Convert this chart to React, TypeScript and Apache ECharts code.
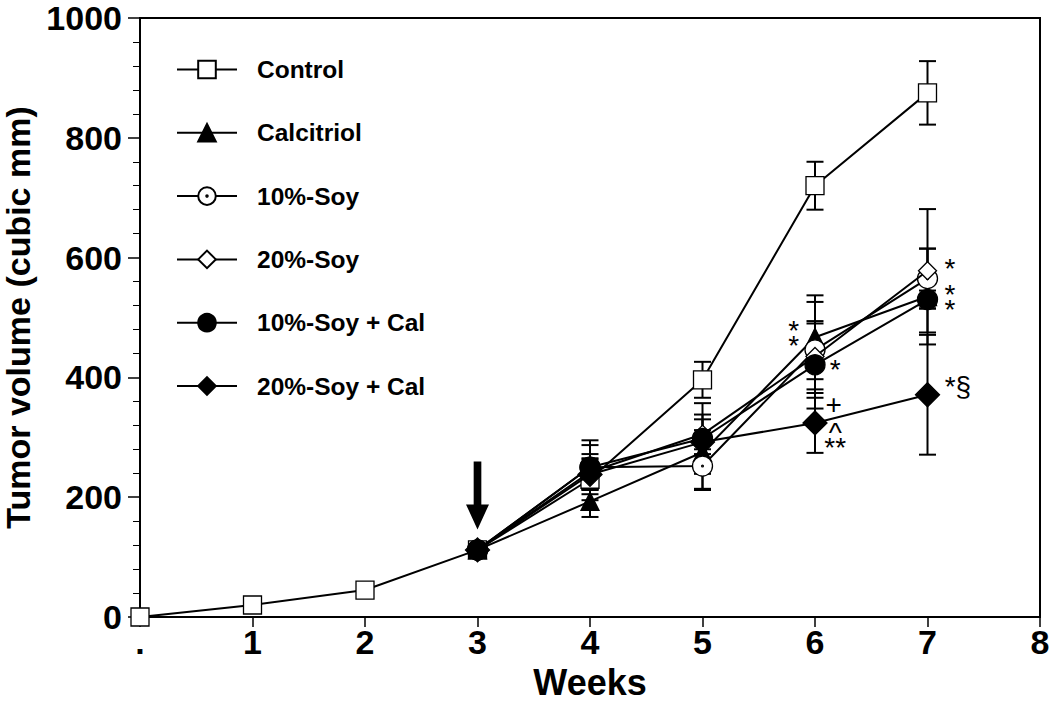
import React, { useEffect, useRef } from "react";
import * as echarts from "echarts";

// ---- data ----
const weeks = [0, 1, 2, 3, 4, 5, 6, 7];
const xTickLabels = [".", "1", "2", "3", "4", "5", "6", "7", "8"];
const seriesNames = ["Control", "Calcitriol", "10%-Soy", "20%-Soy", "10%-Soy + Cal", "20%-Soy + Cal"];

const controlMean = [0, 20, 45, 112, 230, 396, 720, 875];
const controlErr = [0, 0, 0, 0, 35, 30, 40, 53];
const calcitriolMean = [null, null, null, 112, 193, 275, 467, 535];
const calcitriolErr = [0, 0, 0, 0, 26, 63, 70, 80];
const soy10Mean = [null, null, null, 112, 250, 252, 446, 565];
const soy10Err = [0, 0, 0, 0, 37, 38, 80, 50];
const soy20Mean = [null, null, null, 112, 242, 305, 435, 578];
const soy20Err = [0, 0, 0, 0, 30, 25, 55, 103];
const soy10CalMean = [null, null, null, 112, 250, 298, 421, 530];
const soy10CalErr = [0, 0, 0, 0, 45, 59, 73, 15];
const soy20CalMean = [null, null, null, 112, 238, 292, 324, 371];
const soy20CalErr = [0, 0, 0, 0, 25, 20, 50, 100];

// significance marks: [week, value, text]
const annotations: [number, number, string][] = [
  [7.2, 581, "*"],
  [7.2, 526, "*\n*"],
  [7.27, 384, "*§"],
  [5.81, 465, "*\n*"],
  [6.18, 413, "*"],
  [6.165, 354, "+"],
  [6.18, 295, "^\n**"],
];

// treatment start arrow: [week, value]
const arrowPoint: [number, number] = [3, 203];

const FONT = "'Liberation Sans', Arial, Helvetica, sans-serif";
const DOT_CIRCLE =
  "path://M0,-10 A10,10 0 1,1 0,10 A10,10 0 1,1 0,-10 Z M0,-0.9 A0.9,0.9 0 1,1 0,0.9 A0.9,0.9 0 1,1 0,-0.9 Z";
const ARROW = "path://M8,0 L16,0 L16,43 L24,43 L12,68 L0,43 L8,43 Z";

const groups = [
  { name: seriesNames[0], mean: controlMean, err: controlErr, symbol: "rect", size: 18, fill: "#fff" },
  { name: seriesNames[1], mean: calcitriolMean, err: calcitriolErr, symbol: "triangle", size: 18, fill: "#000" },
  { name: seriesNames[2], mean: soy10Mean, err: soy10Err, symbol: DOT_CIRCLE, size: 20, fill: "#fff" },
  { name: seriesNames[3], mean: soy20Mean, err: soy20Err, symbol: "diamond", size: 18, fill: "#fff" },
  { name: seriesNames[4], mean: soy10CalMean, err: soy10CalErr, symbol: "circle", size: 20, fill: "#000" },
  { name: seriesNames[5], mean: soy20CalMean, err: soy20CalErr, symbol: "diamond", size: 24, fill: "#000" },
];

export default function App() {
  const ref = useRef<HTMLDivElement>(null);
  useEffect(() => {
    if (!ref.current) return;
    const chart = echarts.init(ref.current, null, { renderer: "svg" });

    const lineSeries: any[] = groups.map((g, gi) => ({
      name: g.name,
      type: "line",
      z: 5 + gi,
      data: weeks.map((w, i) => [w, g.mean[i]]).filter((d) => d[1] !== null),
      symbol: g.symbol,
      symbolSize: g.size,
      showSymbol: true,
      lineStyle: { color: "#000", width: 2 },
      itemStyle: { color: g.fill, borderColor: "#000", borderWidth: 1.3, opacity: 1 },
      emphasis: { disabled: true },
    }));

    const errData: number[][] = [];
    groups.forEach((g) => {
      weeks.forEach((w, i) => {
        const m = g.mean[i];
        const e = g.err[i];
        if (m !== null && e > 0) errData.push([w, (m as number) - e, (m as number) + e]);
      });
    });

    const errorSeries = {
      name: "errors",
      type: "custom",
      z: 3,
      data: errData,
      encode: { x: 0, y: [1, 2] },
      renderItem: (params: any, api: any) => {
        const x = api.value(0);
        const p1 = api.coord([x, api.value(1)]);
        const p2 = api.coord([x, api.value(2)]);
        const w = 8.5;
        const st = { stroke: "#000", lineWidth: 2 };
        return {
          type: "group",
          children: [
            { type: "line", shape: { x1: p1[0], y1: p1[1], x2: p2[0], y2: p2[1] }, style: st },
            { type: "line", shape: { x1: p1[0] - w, y1: p1[1], x2: p1[0] + w, y2: p1[1] }, style: st },
            { type: "line", shape: { x1: p2[0] - w, y1: p2[1], x2: p2[0] + w, y2: p2[1] }, style: st },
          ],
        };
      },
    };

    const annotationSeries = {
      name: "marks",
      type: "scatter",
      z: 20,
      symbolSize: 1,
      itemStyle: { color: "rgba(0,0,0,0)", opacity: 1 },
      data: annotations.map((a) => ({ value: [a[0], a[1]], label: { formatter: a[2] } })),
      label: {
        show: true,
        position: "inside",
        align: "center",
        verticalAlign: "middle",
        color: "#000",
        opacity: 1,
        fontFamily: FONT,
        fontSize: 28,
        lineHeight: 15,
      },
      emphasis: { disabled: true },
    };

    const arrowSeries = {
      name: "arrow",
      type: "scatter",
      z: 20,
      data: [arrowPoint],
      symbol: ARROW,
      symbolSize: [23, 68],
      itemStyle: { color: "#000", opacity: 1 },
      emphasis: { disabled: true },
    };

    chart.setOption({
      animation: false,
      backgroundColor: "#fff",
      grid: {
        left: 140,
        right: 10,
        top: 18,
        bottom: 86,
        outerBoundsMode: "none",
        containLabel: false,
        show: true,
        borderColor: "#000",
        borderWidth: 2,
        backgroundColor: "transparent",
      },
      legend: {
        orient: "vertical",
        left: 171,
        top: 52,
        itemWidth: 60,
        itemHeight: 22,
        itemGap: 38.3,
        selectedMode: false,
        data: seriesNames,
        textStyle: {
          fontFamily: FONT,
          fontWeight: "bold",
          fontSize: 24.5,
          color: "#000",
          padding: [0, 0, 0, 15],
        },
      },
      xAxis: {
        type: "value",
        min: 0,
        max: 8,
        interval: 1,
        name: "Weeks",
        nameLocation: "middle",
        nameGap: 47,
        nameTextStyle: { fontFamily: FONT, fontWeight: "bold", fontSize: 36, color: "#000" },
        axisLine: { lineStyle: { color: "#000", width: 2 } },
        axisTick: { inside: false, length: 10, lineStyle: { color: "#000", width: 1.5 } },
        splitLine: { show: false },
        axisLabel: {
          margin: 8,
          fontFamily: FONT,
          fontWeight: "bold",
          fontSize: 34,
          color: "#000",
          formatter: (v: number) => xTickLabels[Math.round(v)] ?? "",
        },
      },
      yAxis: {
        type: "value",
        min: 0,
        max: 1000,
        interval: 200,
        name: "Tumor volume (cubic mm)",
        nameLocation: "middle",
        nameGap: 91,
        nameRotate: 90,
        nameTextStyle: { fontFamily: FONT, fontWeight: "bold", fontSize: 34, color: "#000" },
        axisLine: { show: true, lineStyle: { color: "#000", width: 2 } },
        axisTick: { show: true, inside: false, length: 12, lineStyle: { color: "#000", width: 1.5 } },
        minorTick: { show: true, splitNumber: 5, length: 7, lineStyle: { color: "#000", width: 1 } },
        splitLine: { show: false },
        minorSplitLine: { show: false },
        axisLabel: {
          margin: 18,
          fontFamily: FONT,
          fontWeight: "bold",
          fontSize: 34,
          color: "#000",
          formatter: (v: number) => String(v),
        },
      },
      series: [errorSeries, ...lineSeries, annotationSeries, arrowSeries],
    });

    return () => chart.dispose();
  }, []);

  return (
    <div
      ref={ref}
      style={{ position: "fixed", left: 0, top: 0, width: 1050, height: 703, background: "#fff" }}
    />
  );
}
